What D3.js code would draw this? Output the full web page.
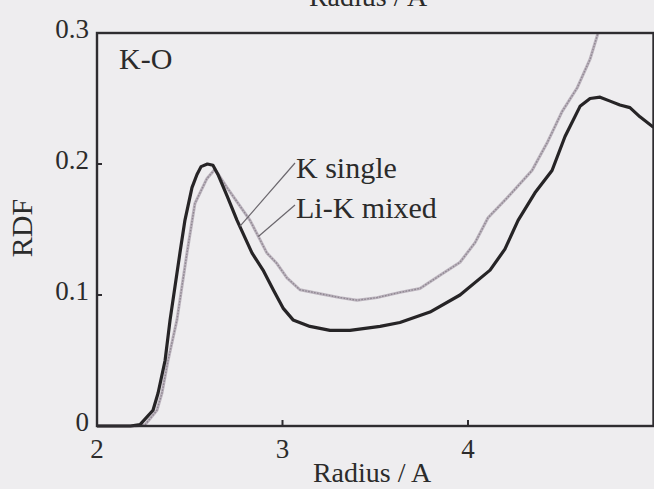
<!DOCTYPE html>
<html>
<head>
<meta charset="utf-8">
<script src="https://cdn.jsdelivr.net/npm/d3@7"></script>
<style>
  html, body { margin: 0; padding: 0; background: #eeedef; }
  svg { display: block; }
  text { font-family: "Liberation Serif", "Times New Roman", serif; fill: #2b2b2b; }
</style>
</head>
<body>
<svg id="chart" width="654" height="489"></svg>
<script>
// K-O radial distribution function, single vs mixed melt
const kSingleR = [2.00, 2.18, 2.232, 2.302, 2.329, 2.367, 2.394, 2.447, 2.474, 2.512, 2.539, 2.561, 2.595, 2.625, 2.652, 2.70, 2.755, 2.836, 2.895, 2.95, 3.003, 3.057, 3.148, 3.256, 3.364, 3.526, 3.633, 3.795, 3.957, 4.119, 4.199, 4.270, 4.361, 4.453, 4.523, 4.604, 4.658, 4.712, 4.766, 4.819, 4.873, 4.927, 5.00];
const kSingleV = [0, 0, 0.001, 0.012, 0.025, 0.050, 0.081, 0.132, 0.157, 0.182, 0.192, 0.198, 0.200, 0.199, 0.192, 0.176, 0.157, 0.132, 0.119, 0.104, 0.090, 0.081, 0.076, 0.073, 0.073, 0.076, 0.079, 0.087, 0.100, 0.119, 0.135, 0.157, 0.178, 0.195, 0.221, 0.244, 0.250, 0.251, 0.248, 0.245, 0.243, 0.236, 0.228];

const liKMixedR = [2.00, 2.205, 2.259, 2.323, 2.350, 2.383, 2.431, 2.485, 2.528, 2.593, 2.636, 2.701, 2.825, 2.916, 2.970, 3.024, 3.094, 3.202, 3.310, 3.402, 3.509, 3.633, 3.741, 3.849, 3.957, 4.038, 4.108, 4.210, 4.345, 4.426, 4.507, 4.588, 4.658, 4.701];
const liKMixedV = [0, 0, 0.001, 0.012, 0.025, 0.050, 0.081, 0.132, 0.170, 0.189, 0.196, 0.182, 0.157, 0.132, 0.124, 0.113, 0.104, 0.101, 0.098, 0.096, 0.098, 0.102, 0.105, 0.115, 0.125, 0.140, 0.159, 0.174, 0.195, 0.216, 0.240, 0.258, 0.280, 0.300];

const xTicks = [2, 3, 4];
const yTicks = [0, 0.1, 0.2, 0.3];
const yTickLabels = ["0", "0.1", "0.2", "0.3"];

const svg = d3.select("#chart");
const x = d3.scaleLinear().domain([2, 5]).range([97, 653.5]);
const y = d3.scaleLinear().domain([0, 0.3]).range([426, 33]);

const tickFont = 27;
const titleFont = 28;
const labelFont = 30;
const frameColor = "#2e2c30";

// lower edge of the axis title belonging to the panel above
svg.append("text")
  .attr("x", 368).attr("y", 6)
  .attr("text-anchor", "middle")
  .attr("font-size", titleFont)
  .text("Radius / A");

// curves
const line = d3.line().x(d => x(d[0])).y(d => y(d[1])).curve(d3.curveLinear);

// mixed melt: light stippled trace
const mixed = d3.zip(liKMixedR, liKMixedV);
svg.append("path")
  .datum(mixed)
  .attr("d", line)
  .attr("fill", "none")
  .attr("stroke", "#bbb3bd")
  .attr("stroke-width", 3)
  .attr("stroke-linejoin", "round");
svg.append("path")
  .datum(mixed)
  .attr("d", line)
  .attr("fill", "none")
  .attr("stroke", "#8e8690")
  .attr("stroke-width", 1.3)
  .attr("stroke-dasharray", "1.6,1.4")
  .attr("stroke-linejoin", "round");

// single melt: solid dark trace
svg.append("path")
  .datum(d3.zip(kSingleR, kSingleV))
  .attr("d", line)
  .attr("fill", "none")
  .attr("stroke", "#262426")
  .attr("stroke-width", 3.2)
  .attr("stroke-linejoin", "round");

// frame
const g = svg.append("g");
g.append("rect")
  .attr("x", x(2)).attr("y", y(0.3))
  .attr("width", x(5) - x(2)).attr("height", y(0) - y(0.3))
  .attr("fill", "none")
  .attr("stroke", frameColor)
  .attr("stroke-width", 2.4);

// inward ticks
g.selectAll(".xt").data(xTicks.slice(1)).enter().append("line")
  .attr("x1", d => x(d)).attr("x2", d => x(d))
  .attr("y1", y(0)).attr("y2", y(0) - 6)
  .attr("stroke", frameColor).attr("stroke-width", 2);
g.selectAll(".yt").data(yTicks.slice(1, 3)).enter().append("line")
  .attr("x1", x(2)).attr("x2", x(2) + 5)
  .attr("y1", d => y(d)).attr("y2", d => y(d))
  .attr("stroke", frameColor).attr("stroke-width", 2);

// tick labels
g.selectAll(".xl").data(xTicks).enter().append("text")
  .attr("x", d => x(d)).attr("y", y(0) + 32)
  .attr("text-anchor", "middle")
  .attr("font-size", tickFont)
  .text(d => d);
g.selectAll(".yl").data(yTicks).enter().append("text")
  .attr("x", x(2) - 8).attr("y", d => y(d) + 5)
  .attr("text-anchor", "end")
  .attr("font-size", tickFont)
  .text((d, i) => yTickLabels[i]);

// axis titles
svg.append("text")
  .attr("x", 372).attr("y", 482)
  .attr("text-anchor", "middle")
  .attr("font-size", titleFont)
  .text("Radius / A");
svg.append("text")
  .attr("transform", "translate(32,228) rotate(-90)")
  .attr("text-anchor", "middle")
  .attr("font-size", labelFont)
  .text("RDF");

// panel label
svg.append("text")
  .attr("x", 119).attr("y", 69)
  .attr("font-size", labelFont)
  .text("K-O");

// series labels with leader lines
const labels = [
  { text: "K single", tx: 296, ty: 178, lx: 295, ly: 163, r: 2.77, src: [kSingleR, kSingleV] },
  { text: "Li-K mixed", tx: 296, ty: 218, lx: 295, ly: 205, r: 2.87, src: [liKMixedR, liKMixedV] }
];
labels.forEach(l => {
  const v = d3.scaleLinear().domain(l.src[0]).range(l.src[1])(l.r);
  svg.append("line")
    .attr("x1", l.lx).attr("y1", l.ly)
    .attr("x2", x(l.r)).attr("y2", y(v))
    .attr("stroke", "#6a666c").attr("stroke-width", 1.2);
  svg.append("text")
    .attr("x", l.tx).attr("y", l.ty)
    .attr("font-size", labelFont)
    .text(l.text);
});
</script>
</body>
</html>
